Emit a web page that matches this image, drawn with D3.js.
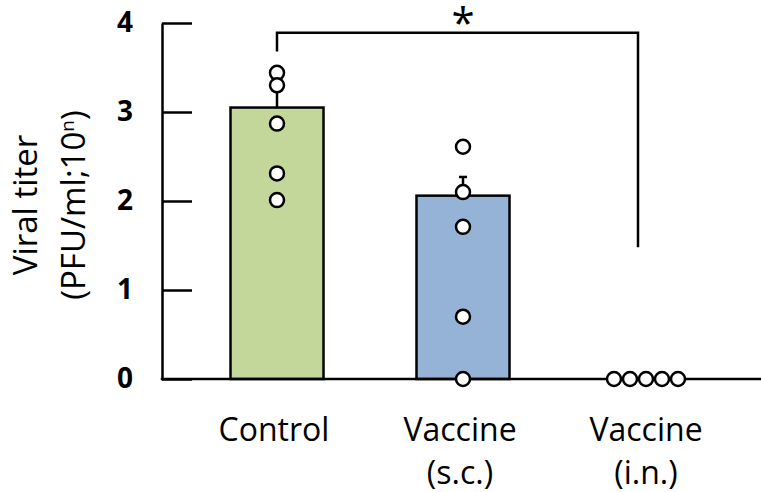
<!DOCTYPE html>
<html>
<head>
<meta charset="utf-8">
<script src="https://cdn.jsdelivr.net/npm/d3@7"></script>
<style>
  html, body { margin: 0; padding: 0; background: #fff; }
  text { font-family: "Open Sans", "Noto Sans", sans-serif; fill: #000; }
</style>
</head>
<body>
<div id="chart"></div>
<script>
// Set up the SVG container
var width = 761;
var height = 492;

// chart values
var groups = ["Control", "Vaccine (s.c.)", "Vaccine (i.n.)"];
var labelLines = [["Control"], ["Vaccine", "(s.c.)"], ["Vaccine", "(i.n.)"]];
var means = [3.05, 2.06, 0];
var errTop = [3.28, 2.27, 0];
var points = [
  [3.44, 3.3, 2.87, 2.31, 2.01],
  [2.61, 2.1, 1.71, 0.7, 0],
  [0, 0, 0, 0, 0],
];
var barColors = ["#c4d79b", "#95b3d7", "#ffffff"];
var yTicks = [0, 1, 2, 3, 4];
// significance bracket: top, left leg end, right leg end (y units)
var bracket = { from: 0, to: 2, top: 3.89, leftEnd: 3.68, rightEnd: 1.48, label: "*" };

var margin = { left: 162, top: 23, bottom: 379 };

var svg = d3
  .select("#chart")
  .append("svg")
  .attr("width", width)
  .attr("height", height);

var y = d3.scaleLinear().domain([0, 4]).range([margin.bottom, margin.top]);

var x = d3
  .scaleBand()
  .domain(groups)
  .range([137.5, 788.5])
  .paddingInner(0.5)
  .paddingOuter(0.5);

function cx(i) {
  return x(groups[i]) + x.bandwidth() / 2;
}

// bars
svg
  .selectAll("rect.bar")
  .data(means)
  .enter()
  .filter(function (d) {
    return d > 0;
  })
  .append("rect")
  .attr("class", "bar")
  .attr("x", function (d) {
    return x(groups[means.indexOf(d)]);
  })
  .attr("y", function (d) {
    return y(d);
  })
  .attr("width", x.bandwidth())
  .attr("height", function (d) {
    return y(0) - y(d);
  })
  .style("fill", function (d) {
    return barColors[means.indexOf(d)];
  })
  .style("stroke", "#000")
  .style("stroke-width", 2.5);

// y axis, ticks pointing inward
var yAxis = d3
  .axisLeft(y)
  .tickValues(yTicks)
  .tickFormat(d3.format("d"))
  .tickSizeInner(-30)
  .tickSizeOuter(0)
  .tickPadding(29);

var gy = svg
  .append("g")
  .attr("transform", "translate(" + margin.left + ",0)")
  .call(yAxis)
  .attr("font-size", 28)
  .attr("font-family", "Open Sans")
  .attr("font-weight", "bold");

gy.selectAll("path, line").style("stroke", "#000").style("stroke-width", 2.5);
gy.selectAll("text").attr("font-size", 28).attr("font-weight", "bold");

// x axis baseline
svg
  .append("line")
  .attr("x1", margin.left - 1.25)
  .attr("x2", width)
  .attr("y1", y(0))
  .attr("y2", y(0))
  .style("stroke", "#000")
  .style("stroke-width", 2.5);

// category labels
var labels = svg
  .selectAll("text.cat")
  .data(labelLines)
  .enter()
  .append("text")
  .attr("class", "cat")
  .attr("text-anchor", "middle")
  .style("font-size", "32px");

labels
  .selectAll("tspan")
  .data(function (d, i) {
    return d.map(function (t) {
      return { t: t, i: i };
    });
  })
  .enter()
  .append("tspan")
  .attr("x", function (d) {
    return cx(d.i) - 3;
  })
  .attr("y", function (d, j) {
    return 441 + j * 43;
  })
  .text(function (d) {
    return d.t;
  });

// y axis title
var yTitle = svg
  .append("text")
  .attr("transform", "translate(37,205) rotate(-90)")
  .attr("text-anchor", "middle")
  .style("font-size", "33px");

yTitle.append("tspan").attr("x", 0).attr("y", 0).text("Viral titer");
yTitle.append("tspan").attr("x", 0).attr("y", 48).text("(PFU/ml;10");
yTitle
  .append("tspan")
  .attr("dy", -11)
  .style("font-size", "19px")
  .text("n");
yTitle.append("tspan").attr("dy", 11).text(")");

// error bars
svg
  .selectAll("g.err")
  .data(errTop)
  .enter()
  .append("g")
  .attr("class", "err")
  .each(function (d, i) {
    if (d <= means[i]) return;
    var g = d3.select(this);
    g.append("line")
      .attr("x1", cx(i))
      .attr("x2", cx(i))
      .attr("y1", y(means[i]))
      .attr("y2", y(d));
    g.append("line")
      .attr("x1", cx(i) - 4)
      .attr("x2", cx(i) + 4)
      .attr("y1", y(d))
      .attr("y2", y(d));
    g.selectAll("line").style("stroke", "#000").style("stroke-width", 2.5);
  });

// individual points; identical values are spread side by side
points.forEach(function (vals, i) {
  var allSame = vals.every(function (v) {
    return v === vals[0];
  });
  svg
    .selectAll("circle.p" + i)
    .data(vals)
    .enter()
    .append("circle")
    .attr("class", "p" + i)
    .attr("cx", function (d, j) {
      return allSame ? cx(i) - 3 + (j - (vals.length - 1) / 2) * 16 : cx(i);
    })
    .attr("cy", function (d) {
      return y(d);
    })
    .attr("r", 7)
    .style("fill", "#fff")
    .style("stroke", "#000")
    .style("stroke-width", 2.5);
});

// significance bracket
var bx1 = cx(bracket.from);
var bx2 = cx(bracket.to) - 11;
svg
  .append("path")
  .attr(
    "d",
    "M" + bx1 + "," + y(bracket.leftEnd) +
      "V" + y(bracket.top) +
      "H" + bx2 +
      "V" + y(bracket.rightEnd)
  )
  .style("fill", "none")
  .style("stroke", "#000")
  .style("stroke-width", 2.5);

svg
  .append("text")
  .attr("x", cx(1))
  .attr("y", 38)
  .attr("text-anchor", "middle")
  .style("font-size", "42px")
  .text(bracket.label);
</script>
</body>
</html>
